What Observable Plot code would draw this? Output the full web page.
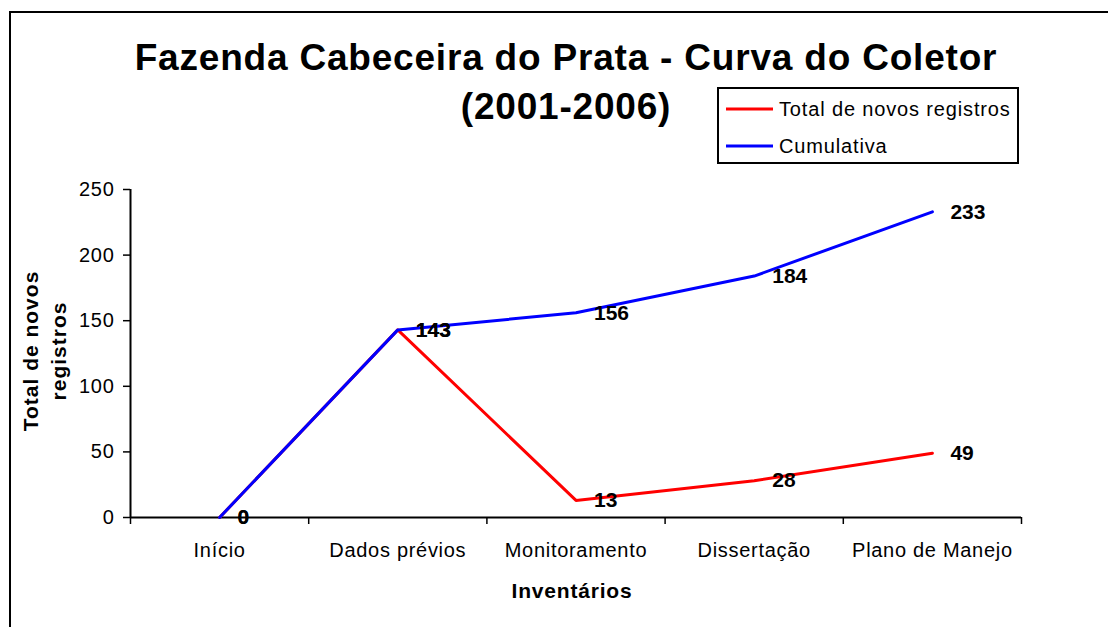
<!DOCTYPE html>
<html>
<head>
<meta charset="utf-8">
<script src="https://cdn.jsdelivr.net/npm/d3@7"></script>
<script src="https://cdn.jsdelivr.net/npm/@observablehq/plot@0.6"></script>
<style>
  html, body { margin: 0; padding: 0; background: #fff; overflow: hidden; }
  #wrap { position: relative; width: 1108px; height: 627px; overflow: hidden; font-family: "Liberation Sans", Arial, sans-serif; }
  #wrap > svg { position: absolute; left: 0; top: 0; }
  #wrap g[aria-label$="tick label"] { letter-spacing: 0.7px; }
  #frame { position: absolute; left: 9px; top: 11px; width: 1200px; height: 700px; border: 2px solid #000; box-sizing: border-box; }
</style>
</head>
<body>
<div id="wrap"><div id="frame"></div></div>
<script>
// ---- data ----
const title1 = "Fazenda Cabeceira do Prata - Curva do Coletor";
const title2 = "(2001-2006)";
const categories = ["Início", "Dados prévios", "Monitoramento", "Dissertação", "Plano de Manejo"];
const novosRegistros = [0, 143, 13, 28, 49];
const cumulativa = [0, 143, 156, 184, 233];
const yTicks = [0, 50, 100, 150, 200, 250];
const seriesNames = ["Total de novos registros", "Cumulativa"];
const seriesColors = ["#ff0000", "#0000ff"];
const yTitle = ["Total de novos", "registros"];
const xTitle = "Inventários";

const data = categories.map((c, i) => ({ i, c, novos: novosRegistros[i], cum: cumulativa[i] }));
const xPos = d => d.i + 0.5;
const font = '"Liberation Sans", Arial, sans-serif';

const chart = Plot.plot({
  width: 1108,
  height: 627,
  marginLeft: 130,
  marginRight: 87,
  marginTop: 189,
  marginBottom: 110,
  x: { domain: [0, categories.length], axis: null },
  y: { domain: [0, 250], axis: null },
  style: { fontFamily: font, fontSize: "20px", color: "#000", background: "transparent", overflow: "visible" },
  marks: [
    Plot.axisY({ ticks: yTicks, tickSize: 7, tickPadding: 9, fontSize: 20, label: null, stroke: "#000", strokeWidth: 1.5 }),
    Plot.axisX({ ticks: d3.range(categories.length + 1), tickSize: 7, tickFormat: () => "", label: null, stroke: "#000", strokeWidth: 1.5 }),
    Plot.axisX({ ticks: categories.map((c, i) => i + 0.5), tickSize: 0, tickPadding: 25, fontSize: 20,
                 tickFormat: v => categories[Math.floor(v)], label: null }),
    Plot.ruleX([0], { stroke: "#000", strokeWidth: 2 }),
    Plot.ruleY([0], { stroke: "#000", strokeWidth: 2 }),
    Plot.lineY(data, { x: xPos, y: "novos", stroke: seriesColors[0], strokeWidth: 3 }),
    Plot.lineY(data, { x: xPos, y: "cum", stroke: seriesColors[1], strokeWidth: 3 }),
    Plot.text(data, { x: xPos, y: "novos", text: d => String(d.novos), dx: 18, textAnchor: "start",
                      fontWeight: "bold", fontSize: 21, fill: "#000" }),
    Plot.text(data, { x: xPos, y: "cum", text: d => String(d.cum), dx: 18, textAnchor: "start",
                      fontWeight: "bold", fontSize: 21, fill: "#000" })
  ]
});
const wrap = document.getElementById("wrap");
wrap.insertBefore(chart, document.getElementById("frame"));

// ---- overlay: titles and legend ----
const ov = d3.select(wrap).append("svg")
  .attr("width", 1108).attr("height", 627)
  .style("font-family", font);

ov.append("text").attr("x", 566).attr("y", 70).attr("text-anchor", "middle")
  .attr("font-size", 37).attr("font-weight", "bold").attr("letter-spacing", 0.8).text(title1);
ov.append("text").attr("x", 566).attr("y", 119).attr("text-anchor", "middle")
  .attr("font-size", 37).attr("font-weight", "bold").attr("letter-spacing", 0.8).text(title2);

ov.append("text").attr("transform", "translate(38,351) rotate(-90)").attr("text-anchor", "middle")
  .attr("font-size", 21).attr("font-weight", "bold").attr("letter-spacing", 1).text(yTitle[0]);
ov.append("text").attr("transform", "translate(66,351) rotate(-90)").attr("text-anchor", "middle")
  .attr("font-size", 21).attr("font-weight", "bold").attr("letter-spacing", 1).text(yTitle[1]);

ov.append("text").attr("x", 572).attr("y", 598).attr("text-anchor", "middle")
  .attr("font-size", 21).attr("font-weight", "bold").attr("letter-spacing", 0.8).text(xTitle);

const lg = ov.append("g");
lg.append("rect").attr("x", 718).attr("y", 88).attr("width", 300).attr("height", 75)
  .attr("fill", "#fff").attr("stroke", "#000").attr("stroke-width", 2);
seriesNames.forEach((name, k) => {
  const y = 109 + k * 37;
  lg.append("line").attr("x1", 726).attr("x2", 773).attr("y1", y).attr("y2", y)
    .attr("stroke", seriesColors[k]).attr("stroke-width", 3);
  lg.append("text").attr("x", 779).attr("y", y + 7).attr("font-size", 20).attr("letter-spacing", 0.85).text(name);
});
</script>
</body>
</html>
